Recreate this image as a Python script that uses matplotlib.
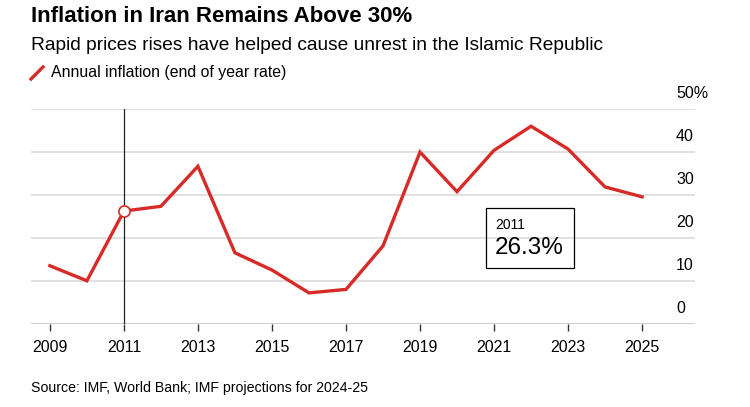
import matplotlib.pyplot as plt
from matplotlib.lines import Line2D
from matplotlib.patches import Rectangle

years = list(range(2009, 2026))
inflation = [13.6, 10.1, 26.3, 27.4, 36.7, 16.6, 12.6, 7.3, 8.1, 18.2,
             40.0, 30.8, 40.4, 46.0, 40.7, 31.9, 29.6]
xticks = list(range(2009, 2026, 2))
yticks = [0, 10, 20, 30, 40, 50]
ylabels = ['0', '10', '20', '30', '40', '50%']
hl_year = 2011
hl_value = 26.3

red = '#d62b27'
plt.rcParams['font.family'] = ['Liberation Sans', 'DejaVu Sans']

W, H = 750, 407
fig = plt.figure(figsize=(W / 100, H / 100), dpi=100)
ax = fig.add_axes([31 / W, 1 - 324.3 / H, (695 - 31) / W, (324.3 - 109) / H])

ax.set_xlim(2008.49, 2026.43)
ax.set_ylim(0, 50)
for v in yticks[1:]:
    ax.axhline(v, color='#e1e1e1', lw=1.4, zorder=1)
ax.axhline(0, color='black', lw=1.0, zorder=2)
for s in ax.spines.values():
    s.set_visible(False)

ax.axvline(hl_year, color='#222222', lw=0.9, zorder=2)
ax.plot(years, inflation, color=red, lw=2.4, zorder=3, solid_joinstyle='miter')
ax.plot([hl_year], [hl_value], 'o', ms=8, mfc='white', mec=red, mew=1.2, zorder=4)

ax.set_yticks([])
ax.set_xticks(xticks)
ax.set_xticklabels([str(x) for x in xticks], fontsize=11.5)
ax.tick_params(axis='x', length=5, width=1, color='#333333', pad=6)

for v, lab in zip(yticks, ylabels):
    ax.annotate(lab, xy=(2025.92, v), xytext=(0, 6), textcoords='offset points',
                ha='left', va='bottom', fontsize=11.5)

# hover box
fig.patches.append(Rectangle((486 / W, 1 - 268 / H), 88 / W, 60 / H,
                             transform=fig.transFigure, fill=False,
                             ec='black', lw=0.9))
fig.text(495 / W, 1 - 225 / H, str(hl_year), fontsize=10, va='center')
fig.text(495 / W, 1 - 248 / H, f'{hl_value}%', fontsize=17.5, va='center')

# titles
fig.text(31 / W, 1 - 17 / H, 'Inflation in Iran Remains Above 30%',
         fontsize=16, fontweight='bold', va='center')
fig.text(31 / W, 1 - 46 / H, 'Rapid prices rises have helped cause unrest in the Islamic Republic',
         fontsize=13.8, va='center')
fig.lines.append(Line2D([31 / W, 43 / W], [1 - 79 / H, 1 - 67 / H],
                        transform=fig.transFigure, color=red, lw=2.4))
fig.text(51 / W, 1 - 73 / H, 'Annual inflation (end of year rate)',
         fontsize=11.4, va='center')
fig.text(31 / W, 1 - 388 / H, 'Source: IMF, World Bank; IMF projections for 2024-25',
         fontsize=10.2, va='center')

fig.savefig('out.png', dpi=100)
